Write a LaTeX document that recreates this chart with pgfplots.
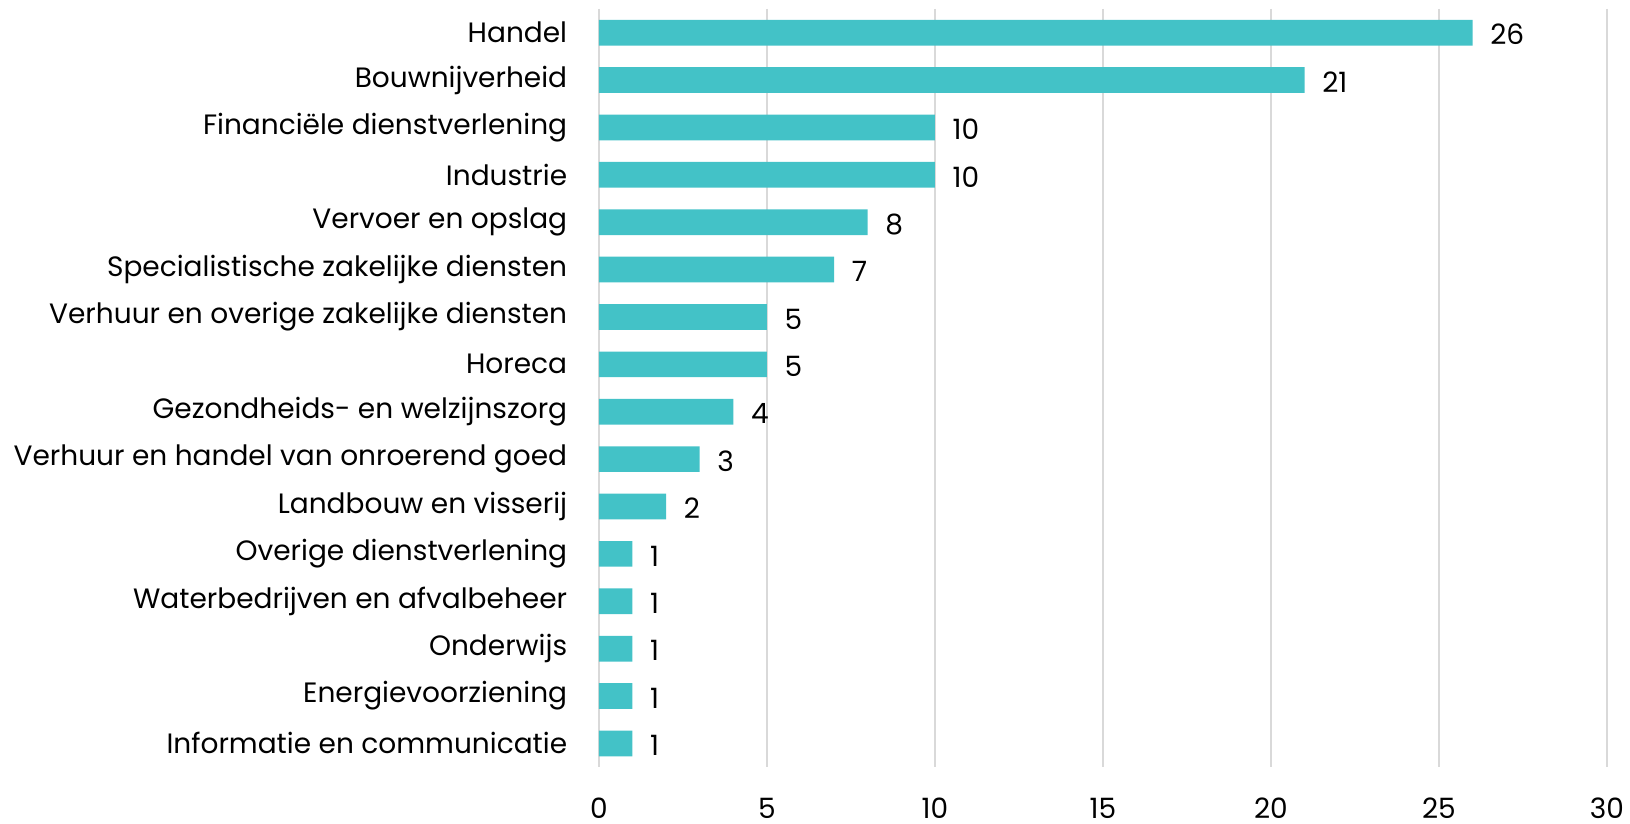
\documentclass[border=0pt]{standalone}
\usepackage{fontspec}
\setmainfont{Poppins}
\usepackage{pgfplots}
\pgfplotsset{compat=1.18}
\definecolor{barc}{HTML}{43C2C7}
\definecolor{gridc}{HTML}{D9D9D9}
\begin{document}
\fontsize{14pt}{17pt}\selectfont
\begin{tikzpicture}
\begin{axis}[
  name=ax,
  scale only axis,
  width=504pt, height=379pt,
  xbar, bar width=12.85pt,
  xmin=0, xmax=30,
  ymin=-0.5, ymax=15.5,
  y dir=reverse,
  xtick={0,5,10,15,20,25,30},
  ytick={0,...,15},
  yticklabels={Handel,Bouwnijverheid,Financiële dienstverlening,Industrie,Vervoer en opslag,Specialistische zakelijke diensten,Verhuur en overige zakelijke diensten,Horeca,Gezondheids- en welzijnszorg\ ,Verhuur en handel van onroerend goed,Landbouw en visserij,Overige dienstverlening,Waterbedrijven en afvalbeheer,Onderwijs,Energievoorziening,Informatie en communicatie},
  xmajorgrids, grid style={gridc, line width=1pt},
  axis line style={draw=none},
  major tick length=0pt,
  /pgf/number format/assume math mode=true,
  tick label style={font=\fontsize{14pt}{17pt}\selectfont},
  xticklabel style={anchor=center, yshift=-20.5pt, inner sep=0pt},
  yticklabel style={xshift=-11pt},
  nodes near coords,
  nodes near coords style={anchor=west, xshift=4pt, yshift=-1pt, font=\fontsize{14pt}{17pt}\selectfont, text=black},
]
\addplot[fill=barc, draw=none] coordinates {
(26,0) (21,1) (10,2) (10,3) (8,4) (7,5) (5,6) (5,7) (4,8) (3,9) (2,10) (1,11) (1,12) (1,13) (1,14) (1,15)
};
\end{axis}
\pgfresetboundingbox
\path (ax.south west) ++(-299.4pt,-28pt) coordinate (bl);
\path (ax.north east) ++(11.5pt,4.5pt) coordinate (tr);
\path[use as bounding box] (bl) rectangle (tr);
\end{tikzpicture}
\end{document}
